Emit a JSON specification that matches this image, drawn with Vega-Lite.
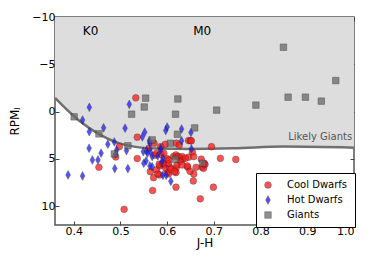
{
  "$schema": "https://vega.github.io/schema/vega-lite/v6.json",
  "width": 299,
  "height": 208,
  "autosize": "none",
  "padding": {"left": 55, "top": 17, "right": 20, "bottom": 42},
  "config": {
    "font": "DejaVu Sans",
    "view": {"stroke": "#555555", "strokeWidth": 1.5},
    "axis": {
      "domain": false,
      "grid": false,
      "tickSize": -4,
      "tickColor": "#444444",
      "tickWidth": 1,
      "labelFontSize": 11,
      "labelColor": "#000000",
      "labelPadding": 4,
      "titleFontSize": 12,
      "titleFontWeight": "normal",
      "titleColor": "#000000"
    },
    "legend": {
      "orient": "none",
      "legendX": 201,
      "legendY": 156,
      "strokeColor": "#000000",
      "fillColor": "#ffffff",
      "padding": 7,
      "labelFontSize": 10,
      "labelColor": "#000000",
      "rowPadding": 4,
      "labelOffset": 14,
      "cornerRadius": 0,
      "symbolStrokeWidth": 0.5
    }
  },
  "datasets": {
    "curve": [
      {"jh": 0.36, "rpm": -1.45},
      {"jh": 0.386, "rpm": -0.18},
      {"jh": 0.414, "rpm": 1.06},
      {"jh": 0.457, "rpm": 2.47},
      {"jh": 0.493, "rpm": 3.29},
      {"jh": 0.529, "rpm": 3.71},
      {"jh": 0.579, "rpm": 3.92},
      {"jh": 0.643, "rpm": 3.96},
      {"jh": 0.743, "rpm": 3.89},
      {"jh": 0.85, "rpm": 3.71},
      {"jh": 1.0, "rpm": 3.82}
    ],
    "labels": [
      {"jh": 0.436, "rpm": -8.5, "text": "K0"},
      {"jh": 0.675, "rpm": -8.5, "text": "M0"}
    ],
    "giantlabel": [
      {"jh": 0.996, "rpm": 2.65, "text": "Likely Giants"}
    ],
    "stars": [
      {"jh": 0.533, "rpm": -1.45, "type": "Cool Dwarfs"},
      {"jh": 0.536, "rpm": 2.71, "type": "Cool Dwarfs"},
      {"jh": 0.498, "rpm": 3.71, "type": "Cool Dwarfs"},
      {"jh": 0.49, "rpm": 4.8, "type": "Cool Dwarfs"},
      {"jh": 0.454, "rpm": 5.89, "type": "Cool Dwarfs"},
      {"jh": 0.536, "rpm": 4.97, "type": "Cool Dwarfs"},
      {"jh": 0.508, "rpm": 10.34, "type": "Cool Dwarfs"},
      {"jh": 0.646, "rpm": 3.07, "type": "Cool Dwarfs"},
      {"jh": 0.62, "rpm": 3.35, "type": "Cool Dwarfs"},
      {"jh": 0.626, "rpm": 3.55, "type": "Cool Dwarfs"},
      {"jh": 0.596, "rpm": 3.46, "type": "Cool Dwarfs"},
      {"jh": 0.561, "rpm": 3.88, "type": "Cool Dwarfs"},
      {"jh": 0.572, "rpm": 3.35, "type": "Cool Dwarfs"},
      {"jh": 0.586, "rpm": 3.71, "type": "Cool Dwarfs"},
      {"jh": 0.65, "rpm": 3.07, "type": "Cool Dwarfs"},
      {"jh": 0.695, "rpm": 3.72, "type": "Cool Dwarfs"},
      {"jh": 0.654, "rpm": 4.3, "type": "Cool Dwarfs"},
      {"jh": 0.574, "rpm": 4.62, "type": "Cool Dwarfs"},
      {"jh": 0.587, "rpm": 4.51, "type": "Cool Dwarfs"},
      {"jh": 0.577, "rpm": 4.41, "type": "Cool Dwarfs"},
      {"jh": 0.593, "rpm": 4.41, "type": "Cool Dwarfs"},
      {"jh": 0.6, "rpm": 4.97, "type": "Cool Dwarfs"},
      {"jh": 0.614, "rpm": 4.73, "type": "Cool Dwarfs"},
      {"jh": 0.619, "rpm": 4.59, "type": "Cool Dwarfs"},
      {"jh": 0.626, "rpm": 4.83, "type": "Cool Dwarfs"},
      {"jh": 0.633, "rpm": 5.04, "type": "Cool Dwarfs"},
      {"jh": 0.646, "rpm": 4.83, "type": "Cool Dwarfs"},
      {"jh": 0.657, "rpm": 4.76, "type": "Cool Dwarfs"},
      {"jh": 0.673, "rpm": 5.04, "type": "Cool Dwarfs"},
      {"jh": 0.68, "rpm": 5.5, "type": "Cool Dwarfs"},
      {"jh": 0.675, "rpm": 5.89, "type": "Cool Dwarfs"},
      {"jh": 0.714, "rpm": 4.95, "type": "Cool Dwarfs"},
      {"jh": 0.747, "rpm": 5.06, "type": "Cool Dwarfs"},
      {"jh": 0.564, "rpm": 6.36, "type": "Cool Dwarfs"},
      {"jh": 0.577, "rpm": 6.18, "type": "Cool Dwarfs"},
      {"jh": 0.584, "rpm": 5.75, "type": "Cool Dwarfs"},
      {"jh": 0.593, "rpm": 5.65, "type": "Cool Dwarfs"},
      {"jh": 0.597, "rpm": 6.0, "type": "Cool Dwarfs"},
      {"jh": 0.606, "rpm": 5.89, "type": "Cool Dwarfs"},
      {"jh": 0.571, "rpm": 6.99, "type": "Cool Dwarfs"},
      {"jh": 0.584, "rpm": 6.7, "type": "Cool Dwarfs"},
      {"jh": 0.601, "rpm": 6.46, "type": "Cool Dwarfs"},
      {"jh": 0.619, "rpm": 6.0, "type": "Cool Dwarfs"},
      {"jh": 0.619, "rpm": 6.46, "type": "Cool Dwarfs"},
      {"jh": 0.644, "rpm": 5.89, "type": "Cool Dwarfs"},
      {"jh": 0.657, "rpm": 6.6, "type": "Cool Dwarfs"},
      {"jh": 0.656, "rpm": 7.34, "type": "Cool Dwarfs"},
      {"jh": 0.662, "rpm": 5.89, "type": "Cool Dwarfs"},
      {"jh": 0.619, "rpm": 8.0, "type": "Cool Dwarfs"},
      {"jh": 0.699, "rpm": 8.0, "type": "Cool Dwarfs"},
      {"jh": 0.569, "rpm": 8.35, "type": "Cool Dwarfs"},
      {"jh": 0.671, "rpm": 9.23, "type": "Cool Dwarfs"},
      {"jh": 0.583, "rpm": 5.57, "type": "Cool Dwarfs"},
      {"jh": 0.591, "rpm": 5.47, "type": "Cool Dwarfs"},
      {"jh": 0.603, "rpm": 5.47, "type": "Cool Dwarfs"},
      {"jh": 0.58, "rpm": 6.6, "type": "Cool Dwarfs"},
      {"jh": 0.603, "rpm": 6.6, "type": "Cool Dwarfs"},
      {"jh": 0.608, "rpm": 6.1, "type": "Cool Dwarfs"},
      {"jh": 0.623, "rpm": 4.76, "type": "Cool Dwarfs"},
      {"jh": 0.632, "rpm": 4.76, "type": "Cool Dwarfs"},
      {"jh": 0.639, "rpm": 4.94, "type": "Cool Dwarfs"},
      {"jh": 0.628, "rpm": 5.29, "type": "Cool Dwarfs"},
      {"jh": 0.621, "rpm": 5.65, "type": "Cool Dwarfs"},
      {"jh": 0.632, "rpm": 5.65, "type": "Cool Dwarfs"},
      {"jh": 0.643, "rpm": 5.75, "type": "Cool Dwarfs"},
      {"jh": 0.616, "rpm": 6.36, "type": "Cool Dwarfs"},
      {"jh": 0.603, "rpm": 5.12, "type": "Cool Dwarfs"},
      {"jh": 0.649, "rpm": 6.32, "type": "Cool Dwarfs"},
      {"jh": 0.678, "rpm": 6.0, "type": "Cool Dwarfs"},
      {"jh": 0.681, "rpm": 5.61, "type": "Cool Dwarfs"},
      {"jh": 0.652, "rpm": 3.1, "type": "Cool Dwarfs"},
      {"jh": 0.388, "rpm": 6.7, "type": "Hot Dwarfs"},
      {"jh": 0.419, "rpm": 6.81, "type": "Hot Dwarfs"},
      {"jh": 0.4335, "rpm": -0.45, "type": "Hot Dwarfs"},
      {"jh": 0.419, "rpm": 0.9, "type": "Hot Dwarfs"},
      {"jh": 0.4335, "rpm": 2.13, "type": "Hot Dwarfs"},
      {"jh": 0.464, "rpm": 1.72, "type": "Hot Dwarfs"},
      {"jh": 0.433, "rpm": 3.88, "type": "Hot Dwarfs"},
      {"jh": 0.473, "rpm": 3.45, "type": "Hot Dwarfs"},
      {"jh": 0.487, "rpm": 3.22, "type": "Hot Dwarfs"},
      {"jh": 0.492, "rpm": 4.06, "type": "Hot Dwarfs"},
      {"jh": 0.4586, "rpm": 4.4, "type": "Hot Dwarfs"},
      {"jh": 0.44, "rpm": 5.12, "type": "Hot Dwarfs"},
      {"jh": 0.452, "rpm": 5.12, "type": "Hot Dwarfs"},
      {"jh": 0.488, "rpm": 6.03, "type": "Hot Dwarfs"},
      {"jh": 0.516, "rpm": 6.03, "type": "Hot Dwarfs"},
      {"jh": 0.519, "rpm": -0.76, "type": "Hot Dwarfs"},
      {"jh": 0.51, "rpm": 1.76, "type": "Hot Dwarfs"},
      {"jh": 0.513, "rpm": 4.13, "type": "Hot Dwarfs"},
      {"jh": 0.49, "rpm": 4.48, "type": "Hot Dwarfs"},
      {"jh": 0.552, "rpm": 2.18, "type": "Hot Dwarfs"},
      {"jh": 0.547, "rpm": 2.68, "type": "Hot Dwarfs"},
      {"jh": 0.562, "rpm": 3.1, "type": "Hot Dwarfs"},
      {"jh": 0.563, "rpm": 3.35, "type": "Hot Dwarfs"},
      {"jh": 0.549, "rpm": 4.24, "type": "Hot Dwarfs"},
      {"jh": 0.556, "rpm": 4.16, "type": "Hot Dwarfs"},
      {"jh": 0.564, "rpm": 4.24, "type": "Hot Dwarfs"},
      {"jh": 0.586, "rpm": 3.88, "type": "Hot Dwarfs"},
      {"jh": 0.586, "rpm": 4.06, "type": "Hot Dwarfs"},
      {"jh": 0.555, "rpm": 5.22, "type": "Hot Dwarfs"},
      {"jh": 0.55, "rpm": 5.47, "type": "Hot Dwarfs"},
      {"jh": 0.563, "rpm": 5.75, "type": "Hot Dwarfs"},
      {"jh": 0.591, "rpm": 4.94, "type": "Hot Dwarfs"},
      {"jh": 0.591, "rpm": 6.75, "type": "Hot Dwarfs"},
      {"jh": 0.598, "rpm": 6.75, "type": "Hot Dwarfs"},
      {"jh": 0.608, "rpm": 7.38, "type": "Hot Dwarfs"},
      {"jh": 0.6, "rpm": 1.64, "type": "Hot Dwarfs"},
      {"jh": 0.597, "rpm": 2.0, "type": "Hot Dwarfs"},
      {"jh": 0.631, "rpm": 1.85, "type": "Hot Dwarfs"},
      {"jh": 0.631, "rpm": 3.1, "type": "Hot Dwarfs"},
      {"jh": 0.651, "rpm": 2.22, "type": "Hot Dwarfs"},
      {"jh": 0.652, "rpm": 3.95, "type": "Hot Dwarfs"},
      {"jh": 0.558, "rpm": 4.41, "type": "Hot Dwarfs"},
      {"jh": 0.568, "rpm": 4.76, "type": "Hot Dwarfs"},
      {"jh": 0.568, "rpm": 5.82, "type": "Hot Dwarfs"},
      {"jh": 0.589, "rpm": 5.3, "type": "Hot Dwarfs"},
      {"jh": 0.58, "rpm": 4.7, "type": "Hot Dwarfs"},
      {"jh": 0.849, "rpm": -6.8, "type": "Giants"},
      {"jh": 0.961, "rpm": -3.28, "type": "Giants"},
      {"jh": 0.859, "rpm": -1.52, "type": "Giants"},
      {"jh": 0.896, "rpm": -1.52, "type": "Giants"},
      {"jh": 0.93, "rpm": -1.1, "type": "Giants"},
      {"jh": 0.79, "rpm": -0.68, "type": "Giants"},
      {"jh": 0.706, "rpm": -0.15, "type": "Giants"},
      {"jh": 0.554, "rpm": -1.42, "type": "Giants"},
      {"jh": 0.623, "rpm": -1.33, "type": "Giants"},
      {"jh": 0.551, "rpm": -0.48, "type": "Giants"},
      {"jh": 0.524, "rpm": 0.28, "type": "Giants"},
      {"jh": 0.618, "rpm": 0.28, "type": "Giants"},
      {"jh": 0.659, "rpm": 1.73, "type": "Giants"},
      {"jh": 0.401, "rpm": 0.56, "type": "Giants"},
      {"jh": 0.454, "rpm": 2.36, "type": "Giants"},
      {"jh": 0.622, "rpm": 2.4, "type": "Giants"},
      {"jh": 0.607, "rpm": 3.35, "type": "Giants"},
      {"jh": 0.568, "rpm": 3.0, "type": "Giants"},
      {"jh": 0.516, "rpm": 3.62, "type": "Giants"},
      {"jh": 0.487, "rpm": 4.48, "type": "Giants"},
      {"jh": 0.618, "rpm": 5.05, "type": "Giants"},
      {"jh": 0.676, "rpm": 5.47, "type": "Giants"}
    ]
  },
  "layer": [
    {
      "data": {"name": "curve"},
      "mark": {"type": "area", "color": "#dddddd", "interpolate": "monotone"},
      "encoding": {
        "x": {"field": "jh", "type": "quantitative",
          "scale": {"domain": [0.36, 1.0], "nice": false, "zero": false},
          "axis": {"orient": "bottom", "title": "J-H", "values": [0.4, 0.5, 0.6, 0.7, 0.8, 0.9, 1.0], "format": ".1f", "titlePadding": 1}},
        "y": {"field": "rpm", "type": "quantitative",
          "scale": {"domain": [-10, 12], "reverse": true, "nice": false, "zero": false},
          "axis": {"orient": "left", "title": "RPMⱼ", "values": [-10, -5, 0, 5, 10], "titlePadding": 10}},
        "y2": {"datum": -10}
      }
    },
    {
      "data": {"name": "curve"},
      "mark": {"type": "line", "color": "#707070", "strokeWidth": 2.5, "interpolate": "monotone"},
      "encoding": {
        "x": {"field": "jh", "type": "quantitative",
          "axis": {"orient": "top", "labels": false, "title": null, "values": [0.4, 0.5, 0.6, 0.7, 0.8, 0.9, 1.0]}},
        "y": {"field": "rpm", "type": "quantitative",
          "axis": {"orient": "right", "labels": false, "title": null, "values": [-10, -5, 0, 5, 10]}}
      }
    },
    {
      "data": {"name": "labels"},
      "mark": {"type": "text", "fontSize": 12, "color": "#000000"},
      "encoding": {
        "x": {"field": "jh", "type": "quantitative", "axis": null},
        "y": {"field": "rpm", "type": "quantitative", "axis": null},
        "text": {"field": "text"}
      }
    },
    {
      "data": {"name": "giantlabel"},
      "mark": {"type": "text", "fontSize": 10, "color": "#555555", "align": "right"},
      "encoding": {
        "x": {"field": "jh", "type": "quantitative", "axis": null},
        "y": {"field": "rpm", "type": "quantitative", "axis": null},
        "text": {"field": "text"}
      }
    },
    {
      "data": {"name": "stars"},
      "mark": {"type": "point", "filled": true, "opacity": 0.75, "stroke": "#222222", "strokeWidth": 0.5},
      "encoding": {
        "x": {"field": "jh", "type": "quantitative", "axis": null},
        "y": {"field": "rpm", "type": "quantitative", "axis": null},
        "color": {"field": "type", "type": "nominal", "title": null,
          "scale": {"domain": ["Cool Dwarfs", "Hot Dwarfs", "Giants"], "range": ["#ff1a1a", "#1a1aff", "#6a6a6a"]},
          "legend": {"symbolOpacity": 0.75, "encode": {"symbols": {"update": {"size": {"value": 30}}}}}},
        "shape": {"field": "type", "type": "nominal", "title": null,
          "scale": {"domain": ["Cool Dwarfs", "Hot Dwarfs", "Giants"], "range": ["circle", "M0,-1L0.55,0L0,1L-0.55,0Z", "square"]}},
        "size": {"field": "type", "type": "nominal", "title": null,
          "scale": {"type": "ordinal", "domain": ["Cool Dwarfs", "Hot Dwarfs", "Giants"], "range": [45, 75, 42]}}
      }
    }
  ],
  "resolve": {"axis": {"x": "independent", "y": "independent"}}
}
